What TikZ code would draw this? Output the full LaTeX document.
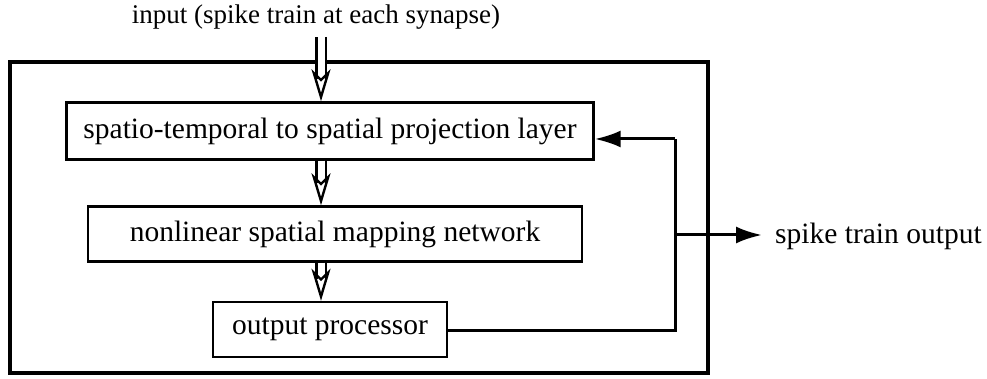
\documentclass[tikz,border=0pt]{standalone}
\usepackage{fontspec}
\setmainfont{Liberation Serif}
\usetikzlibrary{arrows.meta}
\begin{document}
\begin{tikzpicture}[x=1pt,y=-1pt,
  txt/.style={font=\fontsize{29.5}{34}\selectfont},
  stage/.style={draw,line width=2.4pt,inner sep=0pt,txt},
  lbl/.style={inner sep=0pt,txt},
  flow/.style={line width=3pt,-{Latex[length=26pt,width=17pt]}},
  bus/.style={double,double distance=7pt,line width=2.4pt,
    -{Stealth[length=32pt,width=19pt,open,inset=9pt]}}]
\useasboundingbox (0,0) rectangle (987,379);
% enclosing system box
\draw[line width=3.4pt] (10,62) rectangle (708,373);
% processing stages
\node[stage,minimum width=527pt,minimum height=57pt] (proj) at (330,131) {spatio-temporal to spatial projection layer};
\node[stage,minimum width=494pt,minimum height=55pt] (map) at (335,234) {nonlinear spatial mapping network};
\node[stage,minimum width=234pt,minimum height=55pt] (outp) at (330,329.5) {output processor};
% labels
\node[lbl,font=\fontsize{27}{32}\selectfont] (in) at (316,17) {input (spike train at each synapse)};
\node[lbl,anchor=west] (sto) at (775,236) {spike train output};
% stage-to-stage buses
\coordinate (intop) at (321,37);
\draw[bus] (intop) -- (intop |- proj.north);
\draw[bus] (proj.south -| 321,0) -- (map.north -| 321,0);
\draw[bus] (map.south -| 321,0) -- (outp.north -| 321,0);
% feedback loop and output
\coordinate (fbb) at (675,330);
\coordinate (fbt) at (675,139);
\coordinate (tap) at (675,235);
\coordinate (outend) at (762,235);
\draw[line width=3pt] (outp.east |- fbb) -- (fbb) -- (fbt);
\draw[flow] (fbt) -- (proj.east |- fbt);
\draw[flow] (tap) -- (outend);
\end{tikzpicture}
\end{document}
